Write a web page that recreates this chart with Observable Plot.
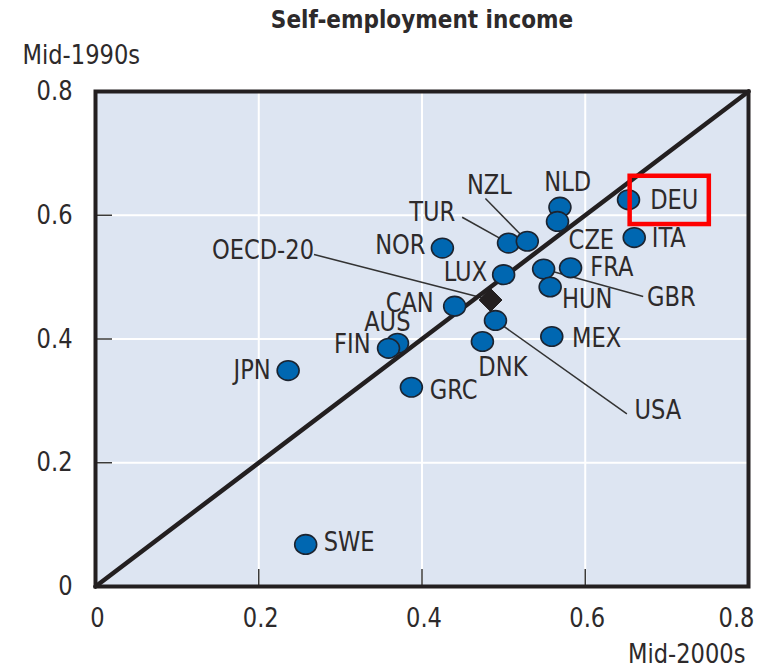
<!DOCTYPE html>
<html>
<head>
<meta charset="utf-8">
<script src="https://cdn.jsdelivr.net/npm/d3@7"></script>
<script src="https://cdn.jsdelivr.net/npm/@observablehq/plot@0.6"></script>
<style>
  html, body { margin: 0; padding: 0; background: #ffffff; }
  #chart svg { display: block; }
</style>
</head>
<body>
<div id="chart"></div>
<script>
// ---- Data ----
const countries = ["NOR","CAN","AUS","FIN","JPN","GRC","DNK","TUR","NZL","NLD","CZE","DEU","ITA","LUX","GBR","FRA","HUN","MEX","USA","SWE"];
const mid2000s  = [0.425,0.440,0.370,0.359,0.236,0.387,0.474,0.506,0.529,0.569,0.566,0.653,0.660,0.500,0.549,0.582,0.557,0.559,0.490,0.2575];
const mid1990s  = [0.547,0.453,0.393,0.385,0.349,0.322,0.396,0.555,0.558,0.613,0.590,0.625,0.564,0.504,0.513,0.515,0.484,0.404,0.430,0.068];

const oecdName = "OECD-20";
const oecdX = 0.484;
const oecdY = 0.463;

// label anchor positions (data units) and text alignment
const labelNames  = ["NZL","TUR","NLD","DEU","ITA","CZE","FRA","GBR","HUN","MEX","USA","DNK","LUX","NOR","OECD-20","CAN","AUS","FIN","JPN","GRC","SWE"];
const labelX      = [0.4826,0.4125,0.5786,0.6795,0.6816,0.5796,0.6061,0.6755,0.5715,0.5837,0.6603,0.4991,0.4798,0.4043,0.2677,0.4144,0.3859,0.3370,0.2147,0.4095,0.2795];
const labelY      = [0.648,0.605,0.653,0.624,0.562,0.560,0.516,0.4676,0.4633,0.4013,0.2844,0.3539,0.508,0.551,0.543,0.4569,0.4271,0.3906,0.3491,0.3168,0.0716];
const labelAlign  = ["middle","middle","middle","start","start","start","start","start","start","start","start","middle","end","end","end","end","end","end","end","start","start"];

// leader lines: label end -> marker
const leaderNames = ["NZL","TUR","GBR","USA","OECD-20"];
const leaderFromX = [0.4777,0.4492,0.549,0.490,0.2677];
const leaderFromY = [0.627,0.5968,0.513,0.430,0.5366];
const leaderToX   = [0.529,0.506,0.671,0.651,0.484];
const leaderToY   = [0.558,0.555,0.4687,0.279,0.463];

// highlight box around DEU
const highlightX = [0.655, 0.752];
const highlightY = [0.585, 0.663];

const axisTicks = [0, 0.2, 0.4, 0.6, 0.8];
const gridTicks = [0.2, 0.4, 0.6];
const diagonal = [[0, 0], [0.8, 0.8]];

const title = "Self-employment income";
const yTitle = "Mid-1990s";
const xTitle = "Mid-2000s";

// ---- Build tables ----
const points = countries.map((c, i) => ({name: c, x: mid2000s[i], y: mid1990s[i]}));
const labels = labelNames.map((n, i) => ({name: n, x: labelX[i], y: labelY[i], align: labelAlign[i]}));
const leaders = leaderNames.map((n, i) => ({name: n, x1: leaderFromX[i], y1: leaderFromY[i], x2: leaderToX[i], y2: leaderToY[i]}));

// ---- Layout ----
const W = 767, H = 671;
const mL = 95, mR = 19, mT = 91, mB = 85;
const pxPerX = (W - mL - mR) / 0.8;
const pxPerY = (H - mT - mB) / 0.8;
const tickLen = 17;

const FONT = "'Liberation Sans Narrow', 'Arial Narrow', 'DejaVu Sans Condensed', sans-serif";
const INK = "#231f20";
const TXT = "#2d2a2b";

const ellipse = {
  draw(ctx, size) {
    const r = Math.sqrt(size / Math.PI);
    const rx = r * 1.12, ry = r, k = 0.5523;
    ctx.moveTo(rx, 0);
    ctx.bezierCurveTo(rx, ry * k, rx * k, ry, 0, ry);
    ctx.bezierCurveTo(-rx * k, ry, -rx, ry * k, -rx, 0);
    ctx.bezierCurveTo(-rx, -ry * k, -rx * k, -ry, 0, -ry);
    ctx.bezierCurveTo(rx * k, -ry, rx, -ry * k, rx, 0);
    ctx.closePath();
  }
};

const labelMark = (align) => Plot.text(labels.filter(d => d.align === align), {
  x: "x", y: "y", text: "name", textAnchor: align, lineAnchor: "middle",
  fontSize: 27, fill: TXT, className: "narrow"
});

const xAxisOpts = {tickSize: 0, tickPadding: 21, tickFormat: d => String(d), label: null, fontSize: 27, fill: TXT};

const chart = Plot.plot({
  width: W, height: H,
  marginLeft: mL, marginRight: mR, marginTop: mT, marginBottom: mB,
  x: {domain: [0, 0.8]},
  y: {domain: [0, 0.8]},
  style: {fontFamily: FONT, fontSize: "27px", color: INK, background: "#ffffff"},
  marks: [
    Plot.frame({fill: "#dde5f2", stroke: null}),
    Plot.ruleX(gridTicks, {stroke: "#ffffff", strokeWidth: 2}),
    Plot.ruleY(gridTicks, {stroke: "#ffffff", strokeWidth: 2}),
    Plot.ruleX(gridTicks, {y1: 0, y2: tickLen / pxPerY, stroke: "#3a3a3a", strokeWidth: 1.5}),
    Plot.ruleY(gridTicks, {x1: 0, x2: tickLen / pxPerX, stroke: "#3a3a3a", strokeWidth: 1.5}),
    Plot.axisX({...xAxisOpts, ticks: axisTicks.slice(0, -1), dx: 2}),
    Plot.axisX({...xAxisOpts, ticks: axisTicks.slice(-1), dx: -12}),
    Plot.axisY({ticks: axisTicks, tickSize: 0, tickPadding: 23, tickFormat: d => String(d), label: null, fontSize: 27, fill: TXT}),
    Plot.link(leaders, {x1: "x1", y1: "y1", x2: "x2", y2: "y2", stroke: "#333333", strokeWidth: 1.5}),
    Plot.line(diagonal, {x: d => d[0], y: d => d[1], stroke: INK, strokeWidth: 4.5}),
    Plot.dot(points, {x: "x", y: "y", r: 9.8, symbol: ellipse, fill: "#0067b1", stroke: "#1c2430", strokeWidth: 1.6}),
    Plot.dot([{x: oecdX, y: oecdY, name: oecdName}], {x: "x", y: "y", r: 10.3, symbol: "diamond2", fill: INK, stroke: INK, strokeWidth: 1}),
    labelMark("middle"),
    labelMark("start"),
    labelMark("end"),
    Plot.rect([{x1: highlightX[0], x2: highlightX[1], y1: highlightY[0], y2: highlightY[1]}], {x1: "x1", x2: "x2", y1: "y1", y2: "y2", fill: "none", stroke: "#ff0000", strokeWidth: 4.5}),
    Plot.frame({stroke: INK, strokeWidth: 4}),
    Plot.text([title], {text: d => d, frameAnchor: "top", dy: -71, fontSize: 24, fontWeight: "bold", fill: TXT, lineAnchor: "middle"}),
    Plot.text([yTitle], {text: d => d, frameAnchor: "top-left", dx: -73, dy: -36, textAnchor: "start", lineAnchor: "middle", fontSize: 27, fill: TXT, className: "narrow"}),
    Plot.text([xTitle], {text: d => d, frameAnchor: "bottom-right", dx: -3, dy: 68, textAnchor: "end", lineAnchor: "middle", fontSize: 27, fill: TXT, className: "narrow"})
  ]
});

document.getElementById("chart").appendChild(chart);

// The reference uses a narrow typeface; condense the substitute font horizontally.
const squeeze = 0.93;
chart.querySelectorAll("g[aria-label='x-axis tick label'] text, g[aria-label='y-axis tick label'] text, g.narrow text, text.narrow").forEach(t => {
  const len = t.getComputedTextLength();
  if (len > 0) {
    t.setAttribute("textLength", (len * squeeze).toFixed(2));
    t.setAttribute("lengthAdjust", "spacingAndGlyphs");
  }
});
</script>
</body>
</html>
